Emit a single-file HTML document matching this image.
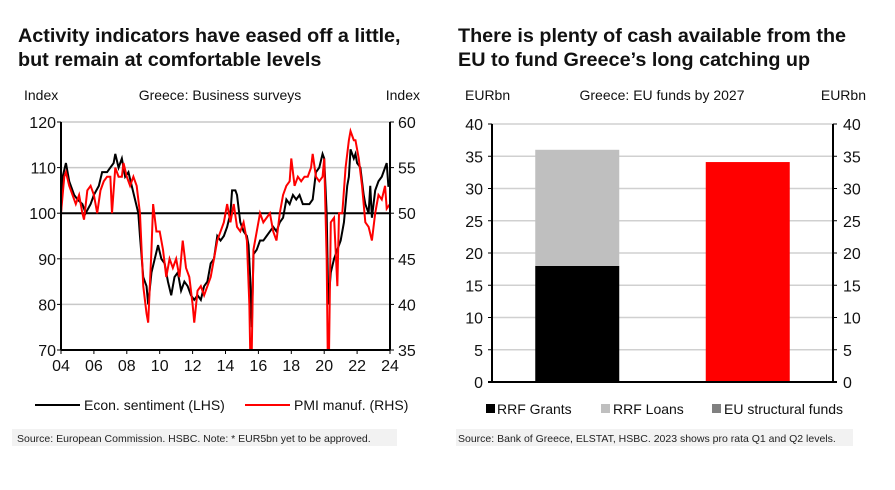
<!DOCTYPE html>
<html><head><meta charset="utf-8"><style>
body{margin:0;background:#fff;}
svg{display:block;font-family:"Liberation Sans",Arial,sans-serif;}
</style></head><body>
<svg id="s" width="895" height="490" viewBox="0 0 895 490">
<defs><clipPath id="cl"><rect x="61" y="122" width="329" height="228"/></clipPath></defs>
<text x="18" y="42" font-size="19.8" font-weight="bold" fill="#111">Activity indicators have eased off a little,</text>
<text x="18" y="66" font-size="19.8" font-weight="bold" fill="#111">but remain at comfortable levels</text>
<text x="458" y="42" font-size="19.8" font-weight="bold" fill="#111">There is plenty of cash available from the</text>
<text x="458" y="66" font-size="19.8" font-weight="bold" fill="#111">EU to fund Greece’s long catching up</text>
<text x="24" y="100" font-size="14" fill="#111">Index</text>
<text x="220" y="100" font-size="14" fill="#111" text-anchor="middle">Greece: Business surveys</text>
<text x="420" y="100" font-size="14" fill="#111" text-anchor="end">Index</text>
<text x="465" y="100" font-size="14" fill="#111">EURbn</text>
<text x="662" y="100" font-size="14" fill="#111" text-anchor="middle">Greece: EU funds by 2027</text>
<text x="866" y="100" font-size="14" fill="#111" text-anchor="end">EURbn</text>
<g id="L"></g><g id="R"></g>
<g>
<line x1="35" y1="405" x2="80" y2="405" stroke="#000" stroke-width="2"/>
<text x="84" y="410" font-size="14" fill="#111">Econ. sentiment (LHS)</text>
<line x1="245" y1="405" x2="290" y2="405" stroke="#f00" stroke-width="2"/>
<text x="294" y="410" font-size="14" fill="#111">PMI manuf. (RHS)</text>
</g>
<g>
<rect x="486" y="404" width="9" height="9" fill="#000"/><text x="497" y="414" font-size="14" fill="#111">RRF Grants</text>
<rect x="601" y="404" width="9" height="9" fill="#bfbfbf"/><text x="613" y="414" font-size="14" fill="#111">RRF Loans</text>
<rect x="712" y="404" width="9" height="9" fill="#808080"/><text x="724" y="414" font-size="14" fill="#111">EU structural funds</text>
</g>
<rect x="12" y="429" width="385" height="17" fill="#f2f2f2"/>
<text x="17" y="442" font-size="10.5" fill="#222">Source: European Commission. HSBC. Note: * EUR5bn yet to be approved.</text>
<rect x="456" y="429" width="397" height="17" fill="#f2f2f2"/>
<text x="458" y="442" font-size="10.5" fill="#222">Source: Bank of Greece, ELSTAT, HSBC. 2023 shows pro rata Q1 and Q2 levels.</text>
</svg>
<script>
const esDates=[2004.0,2004.1,2004.3,2004.5,2004.8,2005.0,2005.3,2005.5,2005.8,2006.0,2006.3,2006.5,2006.8,2007.0,2007.2,2007.3,2007.5,2007.7,2007.9,2008.1,2008.3,2008.5,2008.7,2008.8,2009.0,2009.2,2009.3,2009.5,2009.7,2009.9,2010.1,2010.3,2010.5,2010.7,2010.9,2011.1,2011.3,2011.5,2011.7,2011.9,2012.1,2012.3,2012.5,2012.7,2012.9,2013.1,2013.3,2013.5,2013.7,2013.9,2014.1,2014.3,2014.4,2014.6,2014.7,2014.9,2015.1,2015.3,2015.4,2015.5,2015.6,2015.7,2015.9,2016.1,2016.3,2016.5,2016.7,2016.9,2017.1,2017.3,2017.5,2017.7,2017.9,2018.1,2018.3,2018.5,2018.7,2018.9,2019.1,2019.3,2019.5,2019.7,2019.9,2020.0,2020.15,2020.25,2020.4,2020.6,2020.8,2021.0,2021.2,2021.4,2021.5,2021.6,2021.8,2021.9,2022.0,2022.2,2022.4,2022.5,2022.7,2022.8,2022.9,2023.1,2023.3,2023.5,2023.7,2023.8,2023.9,2024.0];
const esValues=[100,108,111,107,104,103,102,100,102,104,106,109,109,110,111,113,110,112,108,109,106,103,100,95,86,84,80,87,90,93,90,89,85,82,86,87,83,85,84,82,81,82,81,84,85,89,90,95,94,95,97,100,105,105,104,98,96,95,93,86,75,91,92,94,94,95,96,97,96,98,99,103,102,104,103,104,102,102,102,103,109,110,113,112,100,80,87,90,92,94,98,106,108,114,112,113,111,110,104,102,100,106,99,105,107,108,110,111,106,106];
const pmiDates=[2004.0,2004.2,2004.3,2004.5,2004.7,2004.9,2005.1,2005.3,2005.4,2005.6,2005.8,2006.0,2006.2,2006.4,2006.6,2006.8,2007.0,2007.1,2007.3,2007.5,2007.7,2007.8,2008.0,2008.2,2008.4,2008.6,2008.8,2009.0,2009.2,2009.3,2009.5,2009.6,2009.8,2010.0,2010.2,2010.4,2010.6,2010.8,2011.0,2011.2,2011.4,2011.6,2011.8,2012.0,2012.1,2012.3,2012.5,2012.7,2012.9,2013.1,2013.3,2013.5,2013.7,2013.9,2014.1,2014.3,2014.5,2014.7,2014.9,2015.1,2015.3,2015.45,2015.55,2015.7,2015.9,2016.1,2016.3,2016.5,2016.7,2016.9,2017.1,2017.3,2017.5,2017.7,2017.9,2018.0,2018.2,2018.4,2018.6,2018.8,2019.0,2019.2,2019.3,2019.5,2019.7,2019.9,2020.0,2020.15,2020.25,2020.4,2020.6,2020.8,2020.9,2021.1,2021.3,2021.5,2021.6,2021.8,2021.9,2022.1,2022.3,2022.5,2022.7,2022.9,2023.1,2023.3,2023.5,2023.7,2023.8,2024.0];
const pmiValues=[50,54,54.5,53,52,51,52,50,49.3,52.5,53,52,50,52.5,53.5,54,54,50,55,54,54,55.5,54,53,54,53,50,42,39,38,46,51,48,48,46,43,45,44,45,43,47,44,43,40,38,41.5,42,41,42,43,45,47,48,49,51,49,51,48.5,48,49,47,40,30,46,48,50,49,49.5,50,48,47,50,52,53,53.5,56,53,54,53.5,54,54,55,56.5,54,53.5,54,56,45,29,49,49.5,42,50,50,55,58,59,58,58,56,53,49,48.5,47,50,52,51.5,53,50.5,51];
const leftTicks=[70,80,90,100,110,120];
const rightTicks=[35,40,45,50,55,60];
const yearTicks=["04","06","08","10","12","14","16","18","20","22","24"];
const barCategories=["RRF","EU structural funds"];
const grants=[18,0];
const loans=[18,0];
const structural=[0,34.1];
const barTicks=[0,5,10,15,20,25,30,35,40];

const NS="http://www.w3.org/2000/svg";
function mk(p,t,a){const e=document.createElementNS(NS,t);for(const k in a)e.setAttribute(k,a[k]);p.appendChild(e);return e;}
const L=document.getElementById('L'),R=document.getElementById('R');
const X0=61,X1=390,Y0=350,Y1=122;
const FS=16;
const xs=d=>X0+(d-2004)/20*(X1-X0);
const yl=v=>Y0-(v-70)/50*(Y0-Y1);
const yr=v=>Y0-(v-35)/25*(Y0-Y1);
leftTicks.forEach((t,i)=>{
  const y=yl(t);
  if(t!==70&&t!==100){const g=mk(L,'line',{x1:X0,x2:X1,y1:y,y2:y,stroke:'#c8c8c8','stroke-width':1.5});
  
  }
  mk(L,'line',{x1:X0-4,x2:X0,y1:y,y2:y,stroke:'#000'});
  const tx=mk(L,'text',{x:X0-5,y:y+6,'font-size':FS,'text-anchor':'end',fill:'#111'});tx.textContent=t;
  
  
});
rightTicks.forEach(t=>{
  const y=yr(t);
  mk(L,'line',{x1:X1,x2:X1+4,y1:y,y2:y,stroke:'#000'});
  const tx=mk(L,'text',{x:X1+8,y:y+6,'font-size':FS,fill:'#111'});tx.textContent=t;
  
  
});
yearTicks.forEach((t,i)=>{
  const x=xs(2004+2*i);
  mk(L,'line',{x1:x,x2:x,y1:Y0,y2:Y0+4,stroke:'#000'});
  const tx=mk(L,'text',{x:x,y:Y0+21,'font-size':FS,'text-anchor':'middle',fill:'#111'});tx.textContent=t;
  
  
});
mk(L,'line',{x1:X0,x2:X1,y1:yl(100),y2:yl(100),stroke:'#000','stroke-width':2});
const es=mk(L,'polyline',{points:esDates.map((d,i)=>xs(d)+','+yl(esValues[i])).join(' '),fill:'none',stroke:'#000','stroke-width':2,'clip-path':'url(#cl)'});


const pm=mk(L,'polyline',{points:pmiDates.map((d,i)=>xs(d)+','+yr(pmiValues[i])).join(' '),fill:'none',stroke:'#f00','stroke-width':2,'clip-path':'url(#cl)'});


mk(L,'line',{x1:X0,x2:X0,y1:Y1,y2:Y0,stroke:'#000','stroke-width':2});
mk(L,'line',{x1:X1,x2:X1,y1:Y1,y2:Y0,stroke:'#000','stroke-width':2});
mk(L,'line',{x1:X0,x2:X1,y1:Y0,y2:Y0,stroke:'#000','stroke-width':2});

// bar chart
const BX0=492,BX1=833,BY0=382,BY1=124;
const yb=v=>BY0-v/40*(BY0-BY1);
barTicks.forEach(t=>{
  const y=yb(t);
  if(t>0){const g=mk(R,'line',{x1:BX0,x2:BX1,y1:y,y2:y,stroke:'#d0d0d0','stroke-width':1.5});
  
  }
  mk(R,'line',{x1:BX0-4,x2:BX0,y1:y,y2:y,stroke:'#000'});
  mk(R,'line',{x1:BX1,x2:BX1+4,y1:y,y2:y,stroke:'#000'});
  const a=mk(R,'text',{x:BX0-9,y:y+6,'font-size':FS,'text-anchor':'end',fill:'#111'});a.textContent=t;
  
  
  const b=mk(R,'text',{x:BX1+10,y:y+6,'font-size':FS,fill:'#111'});b.textContent=t;
  
  
});
const bw=84;
barCategories.forEach((c,i)=>{
  const cx=BX0+(BX1-BX0)*(i*2+1)/4;
  const x=cx-bw/2;
  let base=0;
  [[grants,'#000','grants'],[loans,'#bfbfbf','loans'],[structural,'#f00','structural']].forEach(([arr,col,n])=>{
    const v=arr[i];if(!v)return;
    const r=mk(R,'rect',{x:x,y:yb(base+v),width:bw,height:yb(base)-yb(base+v),fill:col});
    
    
    base+=v;
  });
});
mk(R,'line',{x1:BX0,x2:BX0,y1:BY1,y2:BY0,stroke:'#000','stroke-width':2});
mk(R,'line',{x1:BX1,x2:BX1,y1:BY1,y2:BY0,stroke:'#000','stroke-width':2});
mk(R,'line',{x1:BX0-4,x2:BX1+4,y1:BY0,y2:BY0,stroke:'#000','stroke-width':2});
</script>
</body></html>
